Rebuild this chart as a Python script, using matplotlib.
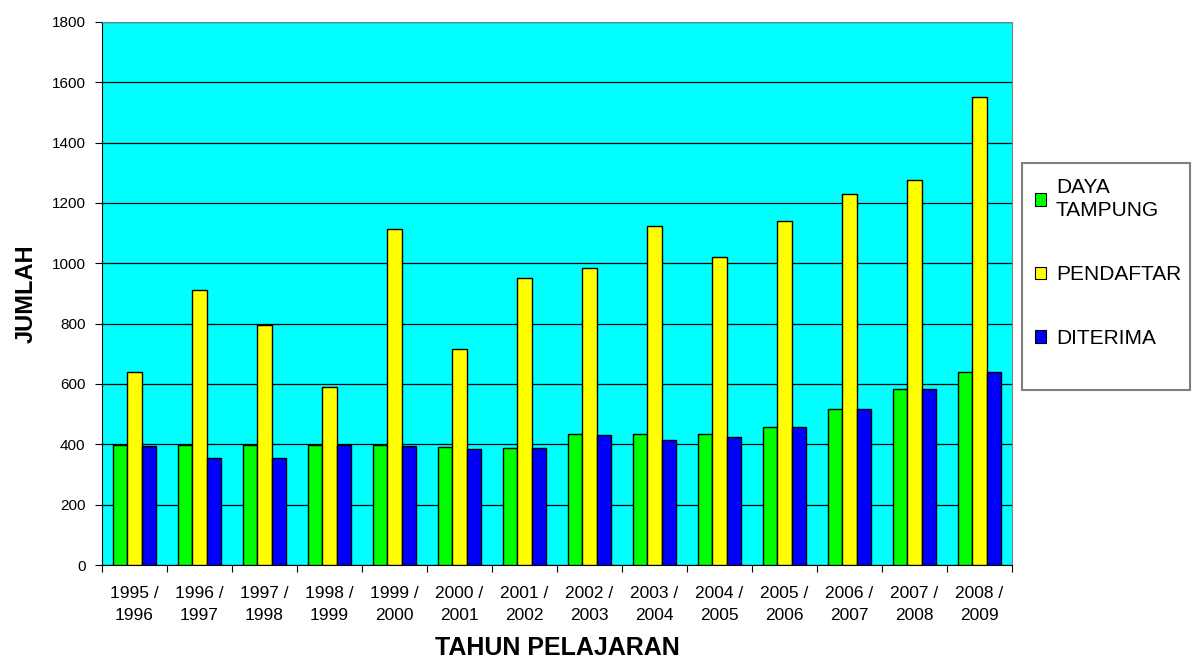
import numpy as np
import matplotlib
matplotlib.use("Agg")
from matplotlib import pyplot as plt
from matplotlib.patches import Patch, Rectangle

plt.rcParams['font.family'] = ['Liberation Sans', 'DejaVu Sans']

# Daten
tahun = ["1995 /\n1996", "1996 /\n1997", "1997 /\n1998", "1998 /\n1999", "1999 /\n2000",
         "2000 /\n2001", "2001 /\n2002", "2002 /\n2003", "2003 /\n2004", "2004 /\n2005",
         "2005 /\n2006", "2006 /\n2007", "2007 /\n2008", "2008 /\n2009"]
daya_tampung = [398, 398, 398, 398, 398, 391, 387, 433, 433, 433, 459, 516, 583, 639]
pendaftar = [639, 911, 795, 591, 1114, 716, 952, 984, 1124, 1020, 1139, 1229, 1276, 1551]
diterima = [394, 354, 354, 398, 396, 386, 388, 430, 413, 423, 459, 516, 583, 639]

warna = ["#00ff00", "#ffff00", "#0000ff"]
namen = ["DAYA\nTAMPUNG", "PENDAFTAR", "DITERIMA"]


def main():
    fig = plt.figure(figsize=(11.95, 6.62), dpi=100)
    ax = fig.add_axes([0.0854, 0.1465, 0.7615, 0.8205])
    ax.set_facecolor("#00ffff")

    x = np.arange(len(tahun))
    b = 0.22
    for i, (werte, farbe) in enumerate(zip([daya_tampung, pendaftar, diterima], warna)):
        ax.bar(x + (i - 1) * b, werte, b, color=farbe, edgecolor="black", lw=1, zorder=3)

    ax.set_xlim(-0.5, len(tahun) - 0.5)
    ax.set_ylim(0, 1800)
    ax.set_yticks(np.arange(0, 1801, 200))
    ax.yaxis.grid(True, color="black", lw=0.9, zorder=1)
    ax.set_axisbelow(True)

    # Ticks an den Gruppengrenzen, Beschriftung in der Mitte
    ax.set_xticks(np.arange(-0.5, len(tahun)), minor=False)
    ax.set_xticklabels([])
    ax.set_xticks(x, minor=True)
    ax.set_xticklabels(tahun, minor=True, fontsize=12.5, linespacing=1.6)
    ax.tick_params(axis="x", which="minor", length=0, pad=15)
    ax.tick_params(axis="x", which="major", length=5, direction="out")
    ax.tick_params(axis="y", length=5, direction="out", labelsize=11, pad=7)

    for s in ["top", "right"]:
        ax.spines[s].set_color("#808080")
    for s in ["left", "bottom"]:
        ax.spines[s].set_color("black")

    ax.set_xlabel("TAHUN PELAJARAN", fontsize=18, fontweight="bold", labelpad=9)
    ax.set_ylabel("JUMLAH", fontsize=17, fontweight="bold", labelpad=10)

    # Legende: Rahmen separat, Eintraege ohne Rahmen
    rahmen = Rectangle((1022 / 1195, 272 / 662), 168 / 1195, 227 / 662,
                       transform=fig.transFigure, facecolor="white",
                       edgecolor="#808080", lw=1.5, zorder=0)
    fig.patches.append(rahmen)
    handles = [Patch(facecolor=c, edgecolor="black", lw=0.8) for c in warna]
    leg = fig.legend(handles, namen, loc="upper left", bbox_to_anchor=(1035 / 1195, 484 / 662),
                     frameon=False, fontsize=15, labelspacing=2.15,
                     handlelength=0.55, handleheight=0.55, handletextpad=0.45,
                     borderpad=0, borderaxespad=0)
    for t in leg.get_texts():
        t.set_linespacing(1.3)

    fig.savefig("out.png", dpi=100)


if __name__ == "__main__":
    main()
